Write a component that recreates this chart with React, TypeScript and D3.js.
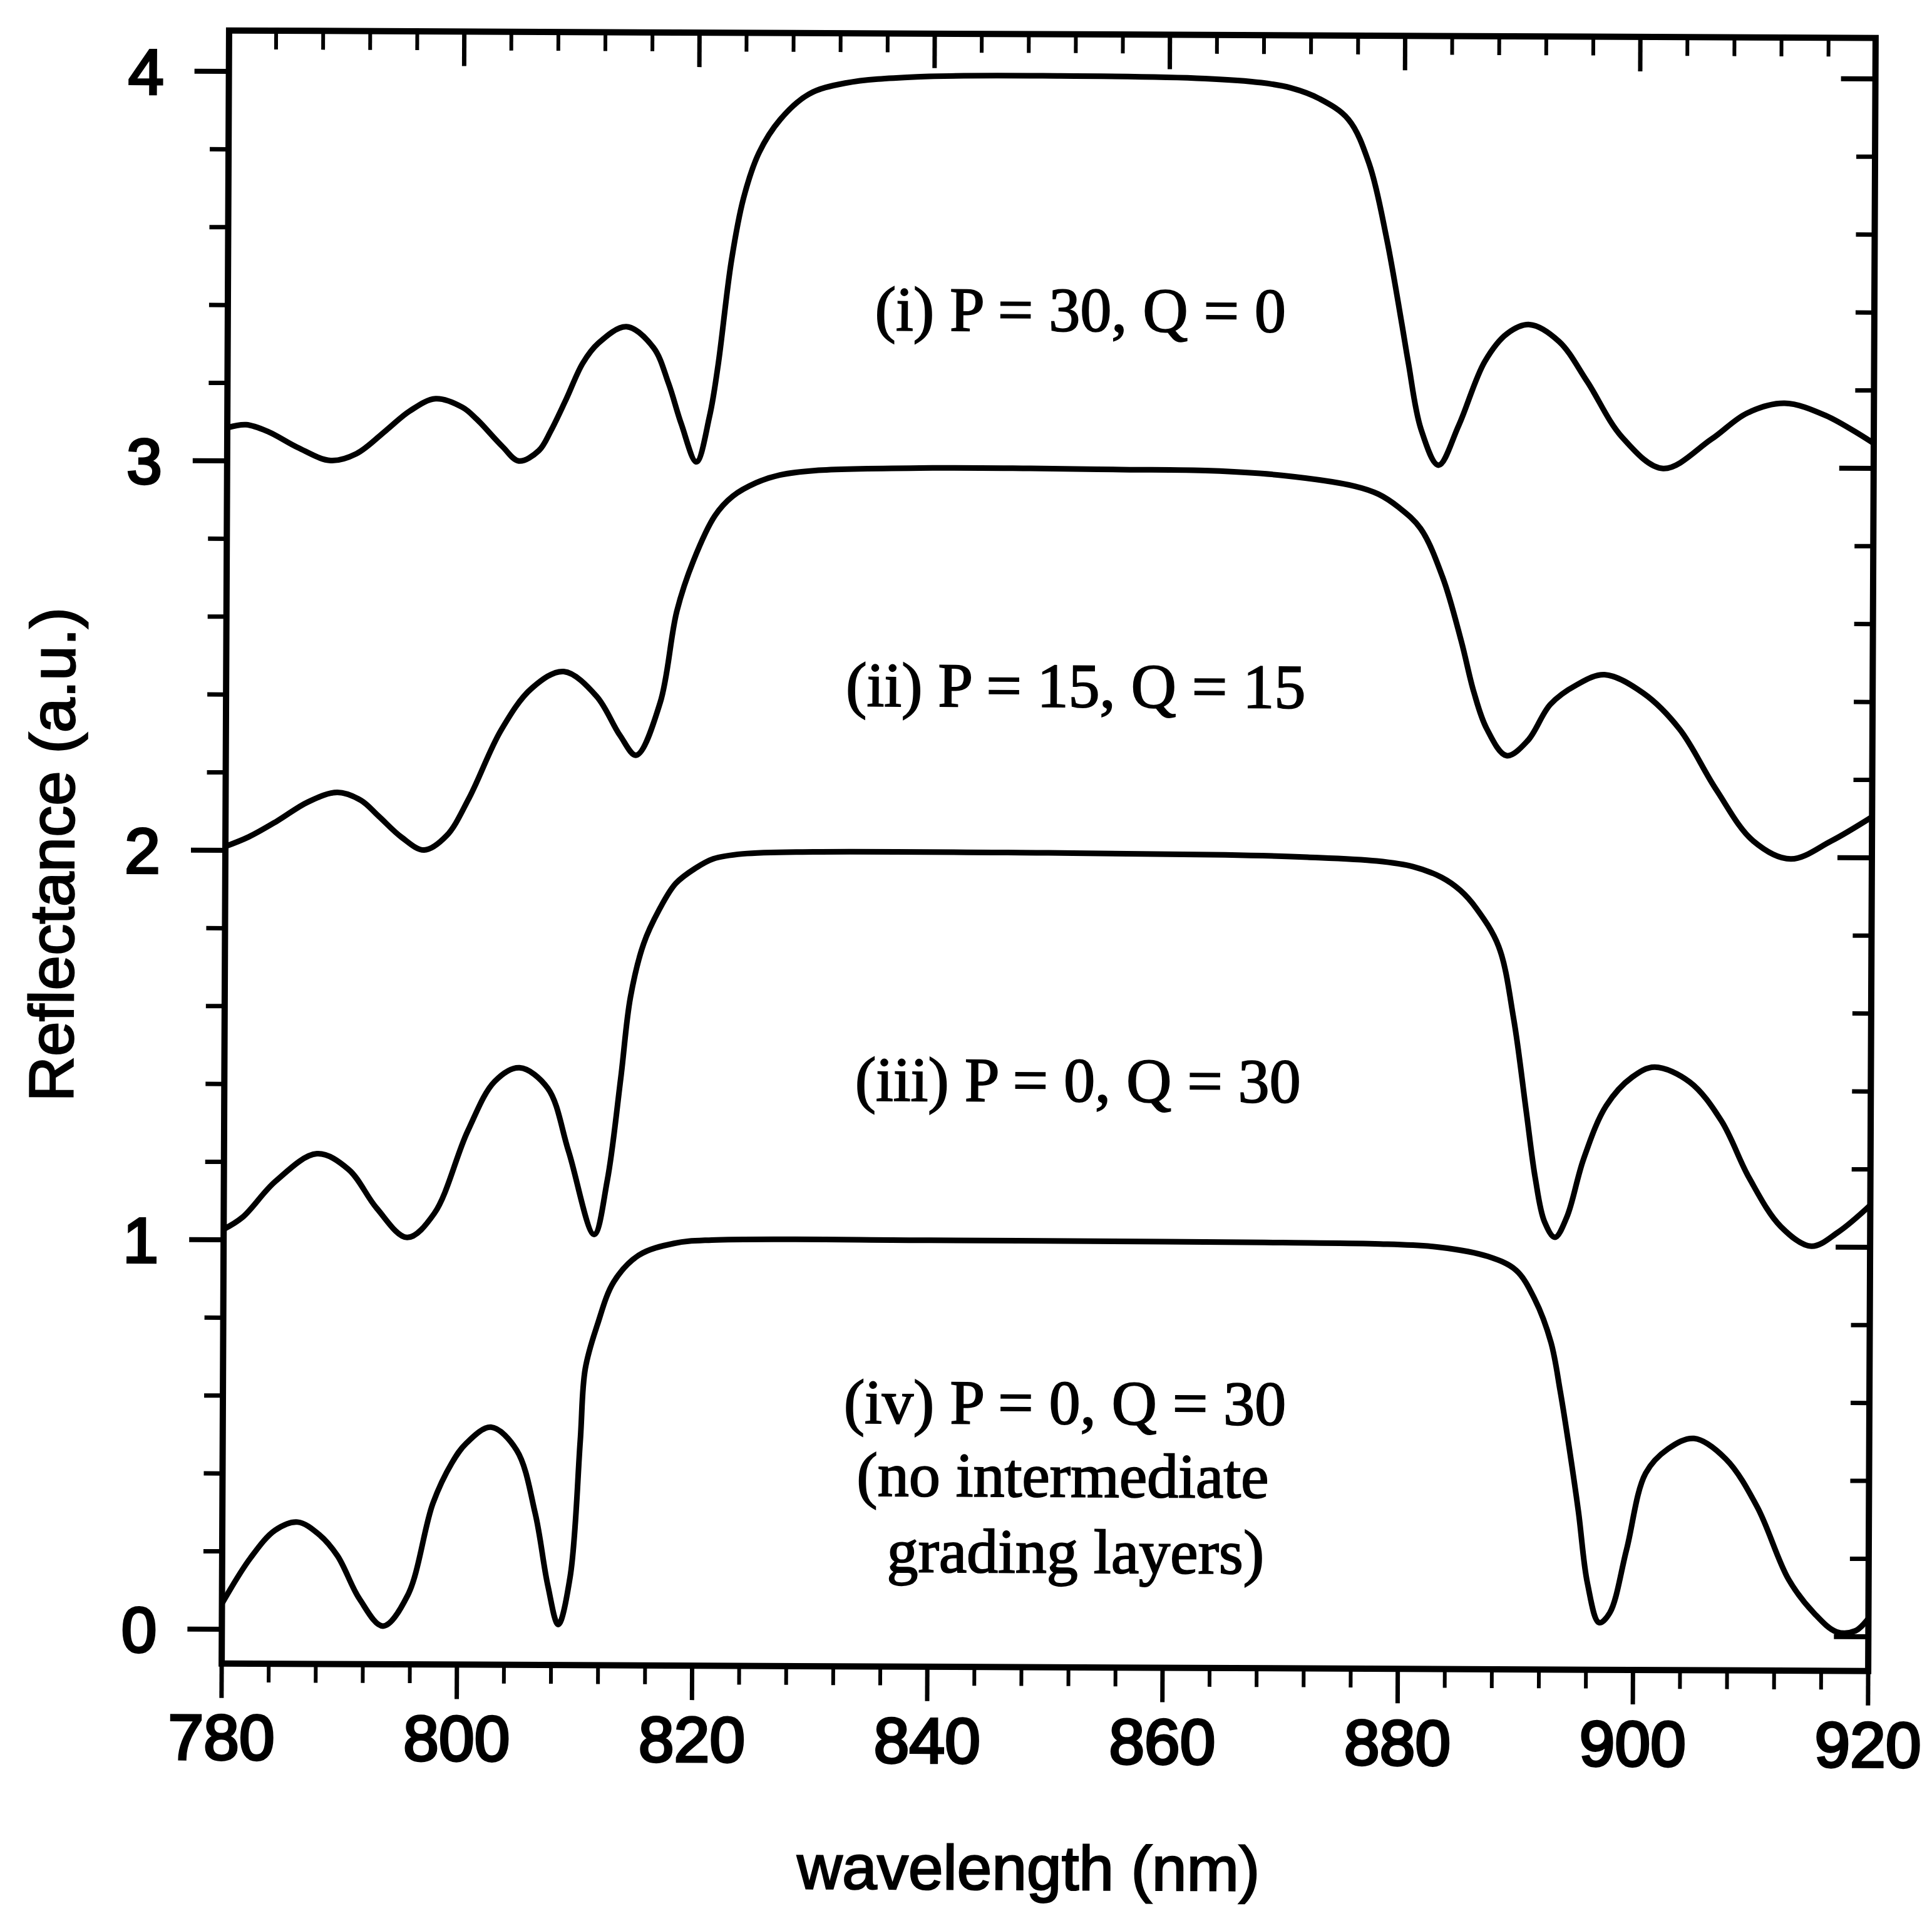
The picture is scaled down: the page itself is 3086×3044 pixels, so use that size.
import React from "react";
import * as d3 from "d3";

// wavelength (nm) / reflectance (a.u.)
const curveI_x = [780, 781.6, 783.5, 786, 788.8, 791, 793.5, 795.5, 797.7, 800, 801.2, 803.4, 804.8, 806.5, 807.5, 808.8, 810.2, 811.5, 813.9, 816.2, 817.5, 818.6, 819.9, 821, 821.7, 822.8, 823.8, 825.1, 826.9, 829.3, 832.4, 838.5, 850.7, 863, 867.8, 870.3, 872.7, 875.2, 877, 878.5, 879.8, 880.4, 881.5, 883, 884.7, 886.9, 888.8, 890.7, 893.2, 895.6, 898.6, 902.1, 906.2, 909.2, 912.4, 915.9, 920];
const curveI_y = [3.085, 3.093, 3.075, 3.035, 3.002, 3.02, 3.08, 3.13, 3.162, 3.14, 3.11, 3.04, 3.003, 3.03, 3.08, 3.162, 3.255, 3.306, 3.349, 3.296, 3.204, 3.1, 3.003, 3.12, 3.25, 3.52, 3.68, 3.797, 3.883, 3.948, 3.977, 3.994, 3.998, 3.993, 3.983, 3.97, 3.943, 3.89, 3.775, 3.585, 3.37, 3.265, 3.095, 3.003, 3.105, 3.27, 3.342, 3.365, 3.322, 3.22, 3.077, 2.997, 3.073, 3.14, 3.166, 3.135, 3.064];

const curveII_x = [780, 782, 784.4, 787, 789.5, 791.5, 793, 795, 796.9, 798.8, 800.7, 803.4, 806, 808.7, 811.5, 813.5, 814.9, 816.9, 818.3, 819.7, 821.5, 823, 825, 827, 830, 840, 848.3, 856, 863.6, 869.7, 875.9, 877.9, 879.6, 881.5, 883.4, 885, 886.1, 887.2, 888.9, 890.7, 892.6, 894.8, 897.2, 900.5, 903.6, 906.7, 909.9, 913.1, 916.5, 920];
const curveII_y = [2.01, 2.035, 2.076, 2.125, 2.15, 2.13, 2.09, 2.035, 2.003, 2.04, 2.137, 2.312, 2.42, 2.463, 2.4, 2.3, 2.249, 2.383, 2.62, 2.75, 2.865, 2.915, 2.95, 2.97, 2.982, 2.99, 2.99, 2.988, 2.986, 2.975, 2.948, 2.928, 2.895, 2.84, 2.715, 2.552, 2.42, 2.327, 2.258, 2.297, 2.39, 2.44, 2.467, 2.42, 2.328, 2.175, 2.042, 1.996, 2.042, 2.105];

const curveIII_x = [780, 781.6, 784.4, 787.9, 790.6, 793, 795.6, 797.9, 800.7, 803, 805.1, 807.5, 809.3, 811.5, 812.6, 813.7, 814.5, 815.6, 816.9, 818.3, 820, 821.5, 824, 830, 850, 865, 872, 877.9, 881, 883.4, 885, 886.4, 888.3, 889.6, 890.7, 891.5, 892.3, 893.2, 894.2, 895.6, 897.5, 899.7, 901.6, 904.6, 907.3, 909.7, 912.4, 915, 917.3, 920];
const curveIII_y = [1.027, 1.058, 1.151, 1.222, 1.182, 1.083, 1.008, 1.07, 1.281, 1.41, 1.445, 1.393, 1.231, 1.018, 1.157, 1.418, 1.628, 1.765, 1.852, 1.92, 1.96, 1.984, 1.997, 2.003, 2.003, 2.0, 1.995, 1.986, 1.972, 1.945, 1.912, 1.865, 1.768, 1.583, 1.347, 1.174, 1.062, 1.022, 1.074, 1.223, 1.36, 1.434, 1.46, 1.422, 1.323, 1.176, 1.052, 1.002, 1.039, 1.108];

const curveIV_x = [780, 782.4, 784.5, 786.4, 788.2, 789.8, 791.7, 793.7, 795.8, 797.9, 799.5, 800.7, 802.8, 805, 806.6, 807.7, 808.6, 809.6, 810.4, 810.8, 811.8, 813.2, 815.3, 818.3, 821.5, 840, 860, 870, 877.9, 883.4, 887.5, 889.9, 891.5, 892.9, 893.7, 894.5, 895.3, 896.1, 897.1, 898, 899.4, 901, 902.9, 905.1, 907.8, 910.5, 913.2, 915.4, 917.3, 918.9, 920];
const curveIV_y = [0.066, 0.183, 0.255, 0.276, 0.245, 0.19, 0.079, 0.01, 0.09, 0.326, 0.43, 0.48, 0.522, 0.463, 0.301, 0.116, 0.016, 0.14, 0.487, 0.673, 0.785, 0.897, 0.965, 0.996, 1.005, 1.007, 1.006, 1.005, 1.003, 0.995, 0.972, 0.937, 0.863, 0.752, 0.628, 0.48, 0.318, 0.133, 0.033, 0.058, 0.22, 0.417, 0.48, 0.507, 0.455, 0.332, 0.146, 0.059, 0.012, 0.015, 0.047];

const xMajorTicks = [780, 800, 820, 840, 860, 880, 900, 920];
const xTickLabels = ["780", "800", "820", "840", "860", "880", "900", "920"];
const yMajorTicks = [0, 1, 2, 3, 4];
const yTickLabels = ["0", "1", "2", "3", "4"];
const xMinorStep = 4;
const yMinorStep = 0.2;
const xDomain = [780, 920];
const yFrame = [-0.088, 4.105];

const annotations = [
  { text: "(i) P = 30, Q = 0", x: 852.5, y: 3.343 },
  { text: "(ii) P = 15, Q = 15", x: 852.24, y: 2.378 },
  { text: "(iii) P = 0, Q = 30", x: 852.58, y: 1.365 },
  { text: "(iv) P = 0, Q = 30", x: 851.6, y: 0.537 },
  { text: "(no intermediate", x: 851.44, y: 0.35 },
  { text: "grading layers)", x: 852.55, y: 0.155 },
];

const series = [
  { xs: curveI_x, ys: curveI_y },
  { xs: curveII_x, ys: curveII_y },
  { xs: curveIII_x, ys: curveIII_y },
  { xs: curveIV_x, ys: curveIV_y },
];

export default function App() {
  const W = 3086, H = 3044;
  const x = d3.scaleLinear().domain(xDomain).range([360, 2990]);
  const y = d3.scaleLinear().domain([0, 4]).range([2602, 114]);
  const line = d3
    .line<[number, number]>()
    .x((d) => x(d[0]))
    .y((d) => y(d[1]))
    .curve(d3.curveCatmullRom.alpha(0.5));

  const x0 = x(xDomain[0]), x1 = x(xDomain[1]);
  const yTop = y(yFrame[1]), yBot = y(yFrame[0]);

  const xMinor = d3.range(xDomain[0], xDomain[1] + 0.001, xMinorStep).filter(
    (v) => !xMajorTicks.some((m) => Math.abs(m - v) < 1e-6)
  );
  const yMinor = d3.range(0, 4.001, yMinorStep).filter(
    (v) => !yMajorTicks.some((m) => Math.abs(m - v) < 1e-6)
  );

  const tickW = 6;
  const minorLen = 30, majorLen = 55;
  const sans = "'Liberation Sans', Arial, Helvetica, sans-serif";
  const serif = "'Liberation Serif', 'Times New Roman', serif";

  return (
    <svg
      width={W}
      height={H}
      viewBox={`0 0 ${W} ${H}`}
      style={{ position: "absolute", left: 0, top: 0, background: "#fff" }}
    >
      <rect x={0} y={0} width={W} height={H} fill="#fff" />
      <g transform="rotate(0.26, 360, 1358)">
        {/* curves */}
        {series.map((s, i) => (
          <path
            key={i}
            d={line(s.xs.map((v, j) => [v, s.ys[j]] as [number, number])) || ""}
            fill="none"
            stroke="#000"
            strokeWidth={9}
            strokeLinejoin="round"
          />
        ))}

        {/* frame */}
        <rect x={x0} y={yTop} width={x1 - x0} height={yBot - yTop} fill="none" stroke="#000" strokeWidth={10} />

        {/* bottom & top ticks (both pointing down) */}
        {xMinor.map((v) => (
          <g key={"xm" + v}>
            <line x1={x(v)} x2={x(v)} y1={yBot} y2={yBot + minorLen} stroke="#000" strokeWidth={tickW} />
            <line x1={x(v)} x2={x(v)} y1={yTop} y2={yTop + minorLen} stroke="#000" strokeWidth={tickW} />
          </g>
        ))}
        {xMajorTicks.map((v) => (
          <g key={"xM" + v}>
            <line x1={x(v)} x2={x(v)} y1={yBot} y2={yBot + majorLen} stroke="#000" strokeWidth={tickW + 1} />
            <line x1={x(v)} x2={x(v)} y1={yTop} y2={yTop + majorLen} stroke="#000" strokeWidth={tickW + 1} />
          </g>
        ))}

        {/* left & right ticks (both pointing left) */}
        {yMinor.map((v) => (
          <g key={"ym" + v}>
            <line x1={x0 - minorLen} x2={x0} y1={y(v)} y2={y(v)} stroke="#000" strokeWidth={tickW + 1} />
            <line x1={x1 - minorLen} x2={x1} y1={y(v)} y2={y(v)} stroke="#000" strokeWidth={tickW + 1} />
          </g>
        ))}
        {yMajorTicks.map((v) => (
          <g key={"yM" + v}>
            <line x1={x0 - majorLen} x2={x0} y1={y(v)} y2={y(v)} stroke="#000" strokeWidth={tickW + 2} />
            <line x1={x1 - majorLen} x2={x1} y1={y(v)} y2={y(v)} stroke="#000" strokeWidth={tickW + 2} />
          </g>
        ))}

        {/* tick labels */}
        {xMajorTicks.map((v, i) => (
          <text
            key={"xl" + v}
            x={x(v)}
            y={2810}
            textAnchor="middle"
            fontFamily={sans}
            fontSize={102}
            fill="#000"
            stroke="#000"
            strokeWidth={4}
          >
            {xTickLabels[i]}
          </text>
        ))}
        {yMajorTicks.map((v, i) => (
          <text
            key={"yl" + v}
            x={256}
            y={y(v)}
            dy="0.36em"
            textAnchor="end"
            fontFamily={sans}
            fontSize={102}
            fill="#000"
            stroke="#000"
            strokeWidth={4}
          >
            {yTickLabels[i]}
          </text>
        ))}

        {/* axis titles */}
        <text
          x={1650}
          y={3012}
          textAnchor="middle"
          fontFamily={sans}
          fontSize={100}
          fill="#000"
          stroke="#000"
          strokeWidth={2.5}
        >
          wavelength (nm)
        </text>
        <text
          transform="translate(118, 1366) rotate(-90)"
          textAnchor="middle"
          fontFamily={sans}
          fontSize={100}
          fill="#000"
          stroke="#000"
          strokeWidth={2.5}
        >
          Reflectance (a.u.)
        </text>

        {/* annotations */}
        {annotations.map((a, i) => (
          <text
            key={"an" + i}
            x={x(a.x)}
            y={y(a.y)}
            textAnchor="middle"
            fontFamily={serif}
            fontSize={100}
            fill="#000"
            stroke="#000"
            strokeWidth={2}
          >
            {a.text}
          </text>
        ))}
      </g>
    </svg>
  );
}
